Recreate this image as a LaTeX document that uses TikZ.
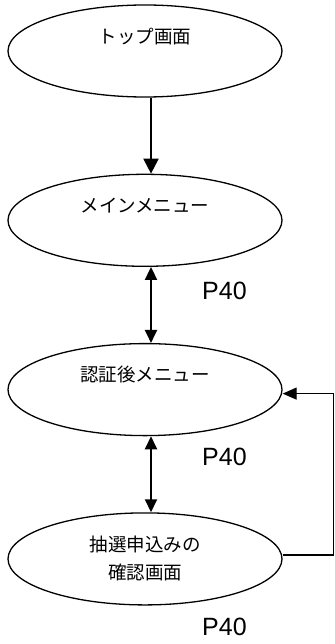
\documentclass[tikz,border=0pt]{standalone}
\usepackage{fontspec}
\setmainfont{Liberation Sans}
\newfontfamily\jpfont{Noto Sans CJK JP}
\usepackage{tikz}
\usetikzlibrary{arrows.meta,positioning,shapes.geometric}
\tikzset{
  screen/.style={draw,ellipse,line width=1.3bp,minimum width=274bp,minimum height=92bp,inner sep=2bp,align=center,font=\jpfont\fontsize{18.5bp}{28bp}\selectfont},
  flow/.style={-{Triangle[length=15bp,width=15bp]},line width=2bp},
  both/.style={{Triangle[length=13bp,width=12bp]}-{Triangle[length=13bp,width=12bp]},line width=2bp},
  back/.style={-{Triangle[length=14bp,width=12bp]},line width=1.3bp},
  page/.style={font=\fontsize{25bp}{30bp}\selectfont,inner sep=0pt}
}

\begin{document}
\begin{tikzpicture}[x=1bp,y=-1bp,node distance=76bp]
  \useasboundingbox (0,0) rectangle (334,644);
  \node[screen] (top) at (145,51) {\raisebox{3bp}{トップ画面}\\\mbox{}};
  \node[screen,below=of top] (main) {\raisebox{3bp}{メインメニュー}\\\mbox{}};
  \node[screen,below=of main] (auth) {\raisebox{3bp}{認証後メニュー}\\\mbox{}};
  \node[screen,below=of auth] (conf) {\raisebox{3bp}{抽選申込みの}\\\raisebox{3bp}{確認画面}};

  \draw[flow] ([xshift=6bp]top.south) -- ([xshift=6bp]main.north);
  \draw[both] ([xshift=6bp]main.south) -- ([xshift=6bp]auth.north);
  \draw[both] ([xshift=6bp]auth.south) -- ([xshift=6bp]conf.north);
  \draw[back] ([yshift=4bp]conf.east) -- ++(50.5,0) |- ([yshift=-4bp]auth.east);

  % page references
  \node[page,below right=15bp and 57bp of main.south] (p1) {P40};
  \node[page,below right=12bp and 57bp of auth.south] (p2) {P40};
  \node[page,below right=12bp and 57bp of conf.south] (p3) {P40};
\end{tikzpicture}
\end{document}
